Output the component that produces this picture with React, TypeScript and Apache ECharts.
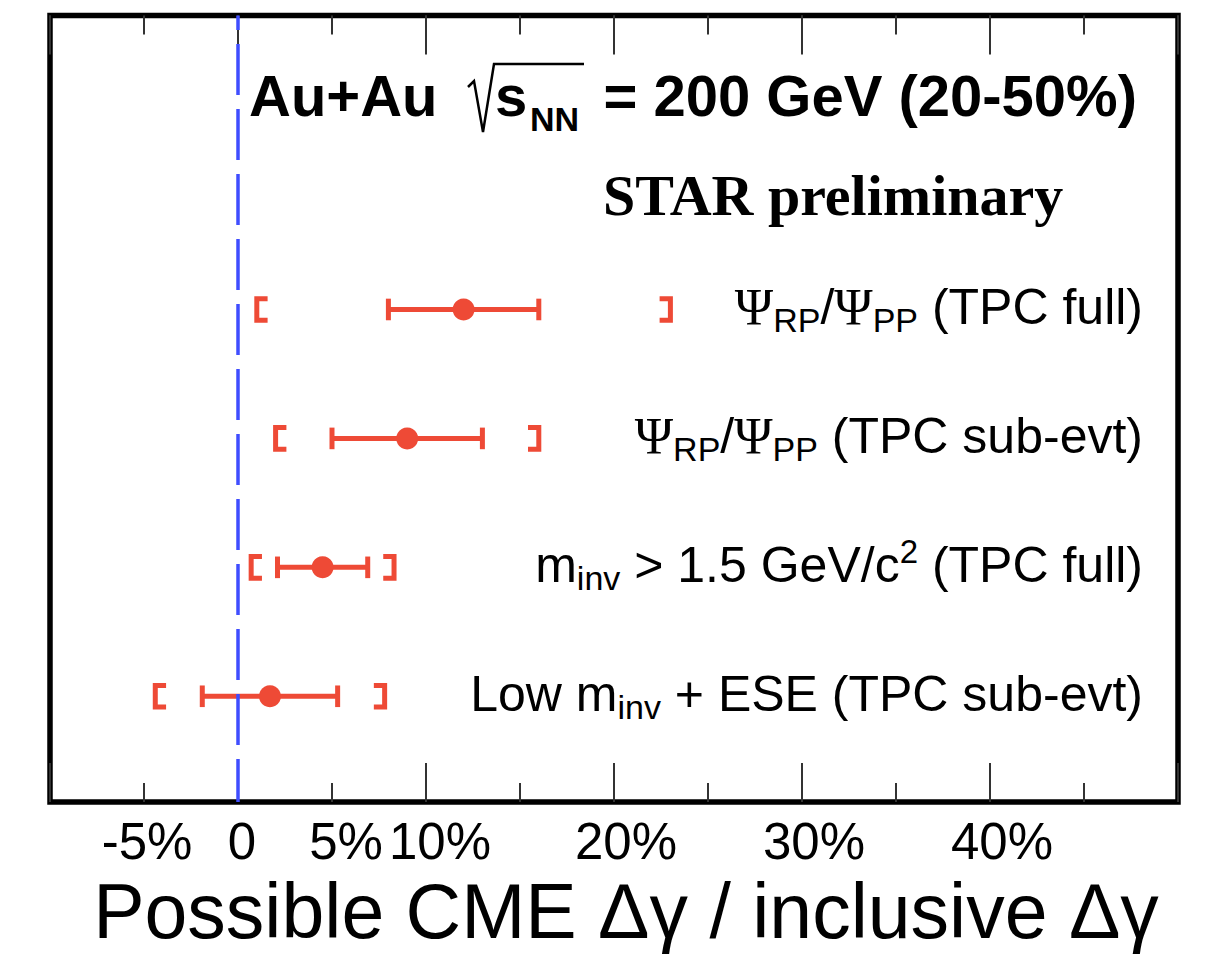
import React, { useEffect, useRef } from "react";
import * as echarts from "echarts";

// ---- data ----
const rowLabels = [
  "{g|Ψ}{b|RP}{n|/}{g|Ψ}{b|PP}{n| (TPC full)}",
  "{g|Ψ}{b|RP}{n|/}{g|Ψ}{b|PP}{n| (TPC sub-evt)}",
  "{n|m}{b|inv}{n| > 1.5 GeV/c}{p|2}{n| (TPC full)}",
  "{n|Low m}{b|inv}{n| + ESE (TPC sub-evt)}",
];
const rowPosition = [4, 3, 2, 1];
const centralValue = [12.0, 9.0, 4.5, 1.7]; // percent
const statError = [4.0, 4.0, 2.4, 3.6];
const sysError = [11.0, 7.0, 3.8, 6.1];

const tickValues = [-5, 0, 5, 10, 20, 30, 40];
const tickTexts = ["-5%", "0", "5%", "10%", "20%", "30%", "40%"];

const xMin = -10;
const xMax = 50;
const yMin = 0.18;
const yMax = 6.28;

// ---- styling ----
const RED = "#EE4A36";
const BLUE = "#3F4DFF";
const SANS = '"Liberation Sans", Arial, Helvetica, sans-serif';
const SERIF = '"Liberation Serif", "Times New Roman", serif';
const tickShift = [3, 4, 14, 14, 12, 12, 12];

const labelRich: Record<string, any> = {
  n: { fontSize: 50, fontFamily: SANS, color: "#000", lineHeight: 60, verticalAlign: "middle" },
  g: { fontSize: 52, fontFamily: SERIF, color: "#000", lineHeight: 60, verticalAlign: "middle" },
  b: { fontSize: 34, fontFamily: SANS, color: "#000", lineHeight: 22, verticalAlign: "bottom" },
  p: { fontSize: 33, fontFamily: SANS, color: "#000", lineHeight: 32, verticalAlign: "top" },
};

const tickRich: Record<string, any> = {};
tickValues.forEach((_, i) => {
  tickRich["t" + i] = {
    fontSize: 51,
    fontFamily: SANS,
    color: "#000",
    padding: [0, 0, 0, tickShift[i] * 2],
  };
});

export default function App() {
  const ref = useRef<HTMLDivElement>(null);

  useEffect(() => {
    if (!ref.current) return;
    const chart = echarts.init(ref.current, undefined, { renderer: "svg" });

    const tickStyle = { color: "#333", width: 2 };
    const baseAxis = {
      type: "value" as const,
      min: xMin,
      max: xMax,
      splitLine: { show: false },
      axisLine: { show: false },
    };

    const rows = centralValue.map((v, i) => [v, rowPosition[i], statError[i], sysError[i]]);

    const option: any = {
      animation: false,
      backgroundColor: "#fff",
      grid: {
        left: 50,
        right: 47,
        top: 15.5,
        bottom: 151,
        show: true,
        borderColor: "#000",
        borderWidth: 5.5,
        backgroundColor: "transparent",
      },
      xAxis: [
        {
          ...baseAxis,
          position: "bottom",
          interval: 5,
          axisTick: { inside: true, length: 19, lineStyle: tickStyle },
          axisLabel: {
            margin: 14,
            formatter: (v: number) => {
              const i = tickValues.indexOf(Math.round(v));
              return i < 0 ? "" : `{t${i}|${tickTexts[i]}}`;
            },
            rich: tickRich,
          },
          name: "Possible CME Δγ / inclusive Δγ",
          nameLocation: "middle",
          nameGap: 70,
          nameTextStyle: {
            fontSize: 77,
            fontFamily: SANS,
            color: "#000",
            padding: [0, 0, 0, 24],
          },
        },
        {
          ...baseAxis,
          position: "bottom",
          interval: 10,
          axisTick: { inside: true, length: 39, lineStyle: tickStyle },
          axisLabel: { show: false },
        },
        {
          ...baseAxis,
          position: "top",
          interval: 5,
          axisTick: { inside: true, length: 19, lineStyle: tickStyle },
          axisLabel: { show: false },
        },
        {
          ...baseAxis,
          position: "top",
          interval: 10,
          axisTick: { inside: true, length: 39, lineStyle: tickStyle },
          axisLabel: { show: false },
        },
      ],
      yAxis: { type: "value", min: yMin, max: yMax, show: false },
      graphic: [
        {
          type: "text",
          x: 249,
          y: 95,
          style: {
            text: "Au+Au",
            font: `bold 58px ${SANS}`,
            fill: "#000",
            align: "left",
            verticalAlign: "middle",
          },
        },
        {
          type: "polyline",
          shape: {
            points: [
              [468, 87],
              [474, 81],
              [483, 132],
              [494, 64],
              [584, 64],
            ],
          },
          style: { stroke: "#000", lineWidth: 2.5, fill: null },
        },
        {
          type: "text",
          x: 495,
          y: 95,
          style: {
            text: "s",
            font: `bold 58px ${SANS}`,
            fill: "#000",
            align: "left",
            verticalAlign: "middle",
          },
        },
        {
          type: "text",
          x: 530,
          y: 119,
          style: {
            text: "NN",
            font: `bold 34px ${SANS}`,
            fill: "#000",
            align: "left",
            verticalAlign: "middle",
          },
        },
        {
          type: "text",
          x: 1137,
          y: 95,
          style: {
            text: "= 200 GeV (20-50%)",
            font: `bold 58px ${SANS}`,
            fill: "#000",
            align: "right",
            verticalAlign: "middle",
          },
        },
        {
          type: "text",
          x: 603,
          y: 195,
          style: {
            text: "STAR preliminary",
            font: `bold 58px ${SERIF}`,
            fill: "#000",
            align: "left",
            verticalAlign: "middle",
          },
        },
      ],
      series: [
        {
          type: "custom",
          z: 2,
          data: rows,
          renderItem: (params: any, api: any) => {
            const v = api.value(0);
            const r = api.value(1);
            const se = api.value(2);
            const sy = api.value(3);
            const cy = api.coord([v, r])[1];
            const tl = api.coord([v - se, r])[0];
            const th = api.coord([v + se, r])[0];
            const sl = api.coord([v - sy, r])[0];
            const sh = api.coord([v + sy, r])[0];
            const lw = 5;
            const cap = 10.8;
            const bh = 10.8;
            const arm = 10.8;
            const st = { stroke: RED, lineWidth: lw, fill: null, lineJoin: "miter", lineCap: "butt" };
            const cs = params.coordSys;
            return {
              type: "group",
              children: [
                { type: "line", shape: { x1: tl, y1: cy, x2: th, y2: cy }, style: st },
                { type: "line", shape: { x1: tl, y1: cy - cap, x2: tl, y2: cy + cap }, style: st },
                { type: "line", shape: { x1: th, y1: cy - cap, x2: th, y2: cy + cap }, style: st },
                {
                  type: "polyline",
                  shape: { points: [[sl + arm, cy - bh], [sl, cy - bh], [sl, cy + bh], [sl + arm, cy + bh]] },
                  style: st,
                },
                {
                  type: "polyline",
                  shape: { points: [[sh - arm, cy - bh], [sh, cy - bh], [sh, cy + bh], [sh - arm, cy + bh]] },
                  style: st,
                },
                {
                  type: "text",
                  x: cs.x + cs.width - 35,
                  y: cy - 2,
                  style: {
                    text: rowLabels[params.dataIndex],
                    rich: labelRich,
                    align: "right",
                    verticalAlign: "middle",
                    fill: "#000",
                  },
                },
              ],
            };
          },
        },
        {
          type: "scatter",
          z: 3,
          symbol: "circle",
          symbolSize: 22,
          itemStyle: { color: RED, opacity: 1 },
          data: centralValue.map((v, i) => [v, rowPosition[i]]),
          markLine: {
            silent: true,
            symbol: "none",
            label: { show: false },
            lineStyle: { color: BLUE, width: 3.5, type: [51, 14], dashOffset: 8.3 },
            data: [{ xAxis: 0 }],
          },
        },
      ],
    };

    chart.setOption(option);
    return () => chart.dispose();
  }, []);

  return (
    <div
      ref={ref}
      style={{ position: "absolute", left: 0, top: 0, width: 1225, height: 954, background: "#fff" }}
    />
  );
}
